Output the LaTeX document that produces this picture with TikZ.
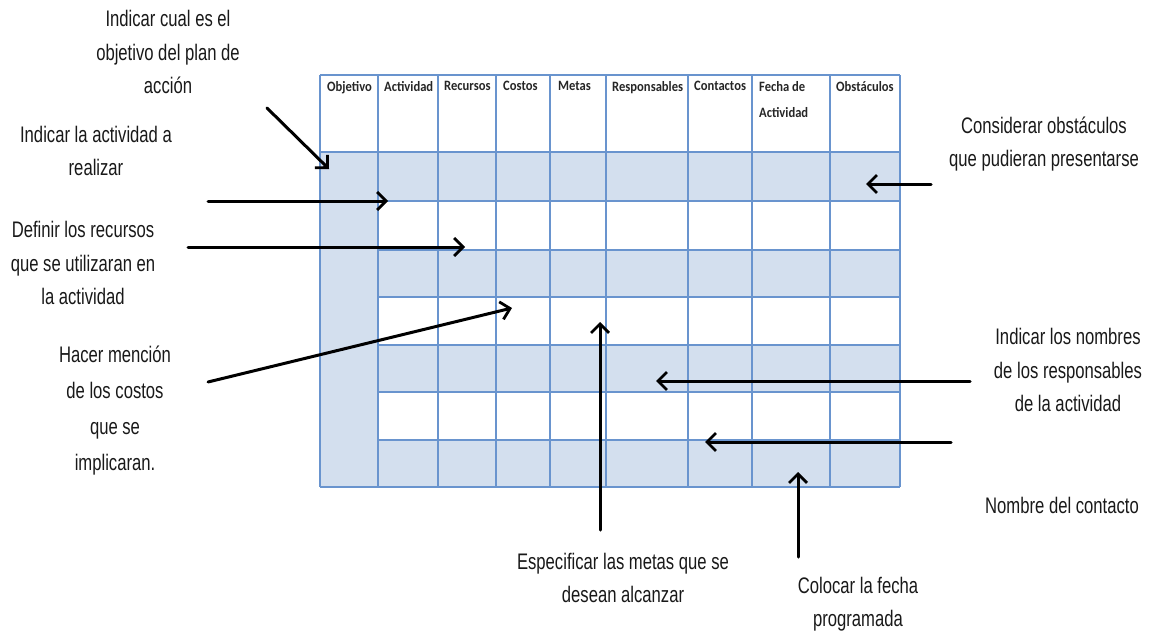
\documentclass[tikz,border=0pt]{standalone}
\usepackage{fontspec}
\setmainfont[FakeStretch=0.74]{Liberation Sans}
\newfontfamily\headfont[FakeStretch=0.88]{Carlito}
\usetikzlibrary{arrows.meta}

\definecolor{gridblue}{RGB}{105,148,206}
\definecolor{cellfill}{RGB}{211,223,238}
\definecolor{inktext}{RGB}{25,25,25}

\begin{document}
\begin{tikzpicture}[x=1pt,y=-1pt,
  note/.style={align=center, text=inktext, inner sep=0pt,
    font=\fontsize{22.5}{33.5}\selectfont},
  head/.style={anchor=north west, align=left, inner sep=0pt, text=black!85,
    font=\headfont\bfseries\fontsize{14.3}{26}\selectfont},
  pointer/.style={line width=3pt, line cap=round,
    -{Straight Barb[length=9pt,width=18pt,line width=2.8pt]}},
  gridline/.style={draw=gridblue, line width=1.2pt}]

\useasboundingbox (0,0) rectangle (1151,635);

% shaded cells: merged first column and alternate rows
\fill[cellfill] (320,152) rectangle (378,487);
\foreach \a/\b in {152/201, 250/297, 345/392, 440/487}
  \fill[cellfill] (378,\a) rectangle (900,\b);

% grid
\foreach \x in {320,378,438,496,550,606,688,752,830,900}
  \draw[gridline] (\x,75) -- (\x,487);
\draw[gridline] (320,75) -- (900,75);
\draw[gridline, line width=2.6pt] (320,152) -- (900,152);
\foreach \y in {201,250,297,345,392,440}
  \draw[gridline] (378,\y) -- (900,\y);
\draw[gridline] (320,487) -- (900,487);

% column headings
\node[head] (hObj) at (327,81) {Objetivo};
\node[head] (hAct) at (384,81) {Actividad};
\node[head] (hRec) at (444,81) {Recursos};
\node[head] (hCos) at (503,81) {Costos};
\node[head] (hMet) at (558,81) {Metas};
\node[head] (hRes) at (612,81) {Responsables};
\node[head] (hCon) at (694,81) {Contactos};
\node[head] (hFec) at (759,81) {Fecha de\\Actividad};
\node[head] (hObs) at (836,81) {Obstáculos};

% explanatory notes
\node[note] (nObj) at (168,52) {Indicar cual es el\\objetivo del plan de\\acción};
\node[note] (nAct) at (96,151) {Indicar la actividad a\\realizar};
\node[note] (nRec) at (83,263) {Definir los recursos\\que se utilizaran en\\la actividad};
\node[note, font=\fontsize{22.5}{36}\selectfont] (nCos) at (115,411)
  {Hacer mención\\de los costos\\que se\\implicaran.};
\node[note] (nObs) at (1044,144) {Considerar obstáculos\\que pudieran presentarse};
\node[note] (nRes) at (1068,370) {Indicar los nombres\\de los responsables\\de la actividad};
\node[note] (nCon) at (1062,505) {Nombre del contacto};
\node[note] (nMet) at (623,578) {Especificar las metas que se\\desean alcanzar};
\node[note] (nFec) at (858,604) {Colocar la fecha\\programada};

% pointer end points
\coordinate (sObj) at (267,108);  \coordinate (tObj) at (329,169);
\coordinate (sAct) at (208,201);  \coordinate (tAct) at (388,201);
\coordinate (sRec) at (188,247);  \coordinate (tRec) at (465,247);
\coordinate (sCos) at (208,382);  \coordinate (tCos) at (512,308);
\coordinate (sMet) at (600,530);  \coordinate (tMet) at (600,322);
\coordinate (sObs) at (931,184);  \coordinate (tObs) at (866,184);
\coordinate (sRes) at (970,381);  \coordinate (tRes) at (656,381);
\coordinate (sCon) at (951,442);  \coordinate (tCon) at (705,442);
\coordinate (sFec) at (798,557);  \coordinate (tFec) at (798,472);

% pointers
\foreach \k in {Obj,Act,Rec,Cos,Met,Obs,Res,Con,Fec}
  \draw[pointer] (s\k) -- (t\k);

\end{tikzpicture}
\end{document}
